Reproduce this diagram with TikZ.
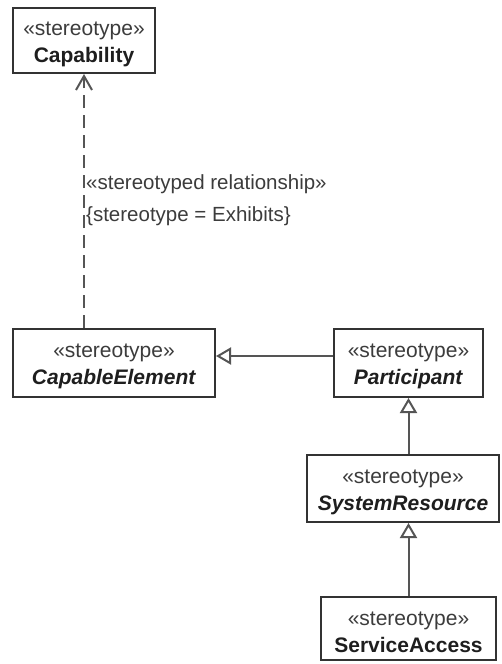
\documentclass[tikz,border=0pt]{standalone}
\usepackage{fontspec}
\setmainfont{Liberation Sans}
\usetikzlibrary{arrows.meta}
\definecolor{linec}{HTML}{333333}
\definecolor{conn}{HTML}{555555}
\definecolor{stc}{HTML}{3C3C3C}
\definecolor{namec}{HTML}{1E1E1E}
\tikzset{
  cls/.style={draw=linec, line width=2pt, fill=white, inner sep=0pt, align=center,
    font=\fontsize{21}{27}\selectfont, text=namec},
  gen/.style={draw=conn, line width=2pt, -{Triangle[open, length=15pt, width=17pt, fill=white]}},
  dep/.style={draw=conn, line width=2pt, dash pattern=on 13pt off 7pt, -{Straight Barb[length=14pt, width=16pt]}},
  lbl/.style={anchor=west, inner sep=0pt, font=\fontsize{20.5}{24}\selectfont, text=stc}
}
\newcommand{\stp}{\rule{0pt}{21pt}{\color{stc}«stereotype»}}
\begin{document}
\begin{tikzpicture}[x=1pt, y=1pt]
\useasboundingbox (0,0) rectangle (501,-664);
\node[cls, minimum width=142pt, minimum height=65pt] (cap) at (84,-40.5) {\stp\\\textbf{Capability}};
\node[cls, minimum width=202pt, minimum height=68pt] (ce) at (114,-363) {\stp\\\textbf{\textit{CapableElement}}};
\node[cls, minimum width=149pt, minimum height=68pt] (par) at (408.5,-363) {\stp\\\textbf{\textit{Participant}}};
\node[cls, minimum width=192pt, minimum height=67pt] (sr) at (403,-488.5) {\stp\\\textbf{\textit{SystemResource}}};
\node[cls, minimum width=175pt, minimum height=63pt] (sa) at (408.5,-628.5) {\stp\\\textbf{ServiceAccess}};
\draw[dep] (ce.north -| cap.south) -- (cap.south);
\draw[gen] ([yshift=7pt]par.west) -- ([yshift=7pt]ce.east);
\draw[gen] (sr.north -| par.south) -- (par.south);
\draw[gen] (sa.north) -- (sa.north |- sr.south);
\node[lbl] (l1) at (86,-184) {«stereotyped relationship»};
\node[lbl] (l2) at (86,-216) {\{stereotype = Exhibits\}};
\end{tikzpicture}
\end{document}
